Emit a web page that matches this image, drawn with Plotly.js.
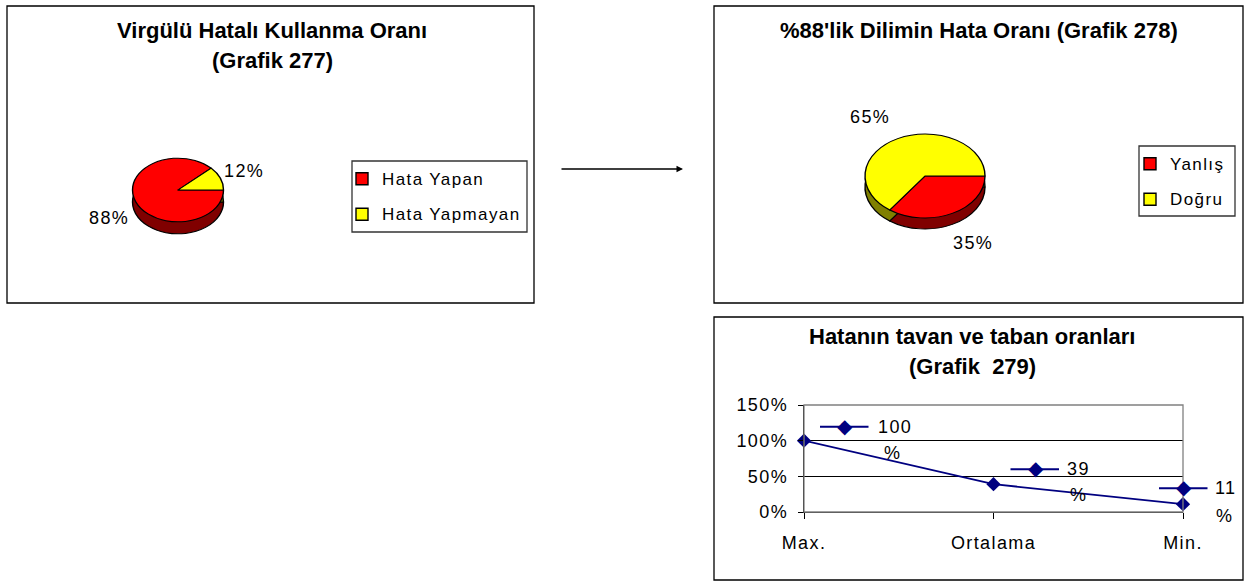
<!DOCTYPE html>
<html>
<head>
<meta charset="utf-8">
<script src="https://cdn.plot.ly/plotly-3.0.1.min.js"></script>
<style>html,body{margin:0;padding:0;background:#fff;}#chart{width:1253px;height:581px;}</style>
</head>
<body>
<div id="chart"></div>
<script>
// ---- data ----
const pie1Labels = ["Hata Yapan", "Hata Yapmayan"];
const pie1Values = [88, 12];
const pie2Labels = ["Yanlış", "Doğru"];
const pie2Values = [35, 65];
const lineCategories = ["Max.", "Ortalama", "Min."];
const lineValues = [1.00, 0.39, 0.11];
const lineLabelNumbers = ["100", "39", "11"];
const yTickVals = [0, 0.5, 1.0, 1.5];
const yTickText = ["0%", "50%", "100%", "150%"];
const titles1 = ["Virgülü Hatalı Kullanma Oranı", "(Grafik 277)"];
const titles2 = ["%88'lik Dilimin Hata Oranı (Grafik 278)"];
const titles3 = ["Hatanın tavan ve taban oranları", "(Grafik \u00a0279)"];

// ---- layout helpers (pixel -> paper) ----
const W = 1253, H = 581;
const px = x => x / W;
const py = y => 1 - y / H;
const FONT = "Liberation Sans, Arial, sans-serif";
const RED = "#FF0000", YEL = "#FFFF00", DRED = "#800000", DYEL = "#808000", NAVY = "#000080";
const sp = (t, extra) => '<span style="letter-spacing:1.4px' + (extra || '') + '">' + t + '</span>';

// pie geometry (pixels): centre x, centre y of top face, diameter, depth; squash factor
const pie1Geo = {cx: 178, cy: 190, d: 91, depth: 12};
const pie2Geo = {cx: 925, cy: 176, d: 120, depth: 11};
const SQUASH = 0.7;
// percent label centres (pixels) for each slice
const pie1LabelPos = [[109, 218], [244, 171]];
const pie2LabelPos = [[973, 243], [870, 117]];

function pieDomain(cx, cy, d) {
  return {x: [px(cx - d / 2), px(cx + d / 2)], y: [py(cy + d / 2), py(cy - d / 2)]};
}

// label offsets for the line chart (pixels relative to each point)
const keyOffsets = [[16, 66, 14], [17, 67, 15], [-24, 26, 16]];  // x0, x1, dy up
const numOffsets = [[91, 14], [85, 15], [43, 16]];
const pctOffsets = [[88, -12], [84, -11], [41, -12]];

const traces = [];
const pieCentres = [];
function addPie(labels, values, geo, legendId) {
  traces.push({type: "pie", labels: labels, values: values, sort: false, direction: "clockwise", rotation: 90,
    domain: pieDomain(geo.cx, geo.cy + geo.depth, geo.d), marker: {colors: [DRED, DYEL], line: {color: "#000", width: 1.4}},
    textinfo: "none", showlegend: false, hoverinfo: "skip"});
  pieCentres.push(geo.cy + geo.depth);
  traces.push({type: "pie", labels: labels.map(l => sp(l, ";font-size:17px;baseline-shift:4px")), values: values, sort: false,
    direction: "clockwise", rotation: 90,
    domain: pieDomain(geo.cx, geo.cy, geo.d), marker: {colors: [RED, YEL], line: {color: "#000", width: 1.4}},
    textinfo: "none", legend: legendId, hoverinfo: "skip"});
  pieCentres.push(geo.cy);
}
addPie(pie1Labels, pie1Values, pie1Geo, "legend");
addPie(pie2Labels, pie2Values, pie2Geo, "legend2");

// line chart
traces.push({type: "scatter", mode: "lines+markers", x: lineCategories, y: lineValues,
  line: {color: NAVY, width: 1.8}, marker: {symbol: "diamond", size: 11, color: NAVY}, cliponaxis: false,
  xaxis: "x", yaxis: "y", showlegend: false});

const shapes = [];
const rect = (x0, y0, x1, y1, col) => ({type: "rect", xref: "paper", yref: "paper", x0: px(x0), x1: px(x1), y0: py(y1), y1: py(y0), line: {color: col || "#000", width: 1.3}});
shapes.push(rect(7, 6, 534, 303));
shapes.push(rect(714, 6, 1243, 303));
shapes.push(rect(714, 317, 1243, 580));
// legend boxes
shapes.push(rect(352, 161, 527, 232, "#333"));
shapes.push(rect(1139, 146, 1235, 216, "#333"));
// plot-area border (grey)
shapes.push({type: "rect", xref: "x domain", yref: "y domain", x0: 0, x1: 1, y0: 0, y1: 1, line: {color: "#808080", width: 1.3}, layer: "above"});

const annotations = [];
const titleAnn = (text, x, y) => ({text: text, xref: "paper", yref: "paper", x: px(x), y: py(y), showarrow: false,
  xanchor: "center", yanchor: "middle", font: {family: FONT, size: 22, color: "#000", weight: "bold"}});
annotations.push(titleAnn(titles1[0], 272, 31));
annotations.push(titleAnn(titles1[1], 272, 61));
annotations.push(titleAnn(titles2[0], 979, 31));
annotations.push(titleAnn(titles3[0], 972, 336));
annotations.push(titleAnn(titles3[1], 972, 366));
// arrow
annotations.push({text: "", xref: "paper", yref: "paper", x: px(683), y: py(169), axref: "paper", ayref: "paper",
  ax: px(560), ay: py(169), showarrow: true, arrowhead: 2, arrowsize: 1, arrowwidth: 1.3, arrowcolor: "#000"});

// pie percent labels (computed from the values)
function pctLabels(values, pos) {
  const tot = values.reduce((a, b) => a + b, 0);
  values.forEach((v, i) => annotations.push({text: sp(Math.round(v / tot * 100) + "%"), xref: "paper", yref: "paper",
    x: px(pos[i][0]), y: py(pos[i][1]), showarrow: false, xanchor: "center", yanchor: "middle",
    font: {family: FONT, size: 18, color: "#000"}}));
}
pctLabels(pie1Values, pie1LabelPos);
pctLabels(pie2Values, pie2LabelPos);

// line chart data labels (key + number + %)
lineCategories.forEach((c, i) => {
  const k = keyOffsets[i];
  annotations.push({text: "", xref: "x", yref: "y", x: c, y: lineValues[i], xshift: k[0], yshift: k[2],
    showarrow: true, ax: k[1] - k[0], ay: 0, arrowhead: 0, arrowwidth: 2, arrowcolor: NAVY, standoff: 0, startstandoff: 0});
  annotations.push({text: "\u25C6", xref: "x", yref: "y", x: c, y: lineValues[i], xshift: (k[0] + k[1]) / 2, yshift: k[2] + 1,
    showarrow: false, font: {family: "DejaVu Sans", size: 20, color: NAVY}, xanchor: "center", yanchor: "middle"});
  annotations.push({text: sp(lineLabelNumbers[i]), xref: "x", yref: "y", x: c, y: lineValues[i], xshift: numOffsets[i][0], yshift: numOffsets[i][1],
    showarrow: false, font: {family: FONT, size: 18, color: "#000"}, xanchor: "center", yanchor: "middle"});
  annotations.push({text: "%", xref: "x", yref: "y", x: c, y: lineValues[i], xshift: pctOffsets[i][0], yshift: pctOffsets[i][1],
    showarrow: false, font: {family: FONT, size: 18, color: "#000"}, xanchor: "center", yanchor: "middle"});
});

const legendBase = {xanchor: "left", yanchor: "top", bgcolor: "rgba(0,0,0,0)", borderwidth: 0,
  font: {family: FONT, size: 25, color: "#000"}, itemclick: false, itemwidth: 30};

const layout = {
  width: W, height: H, margin: {l: 0, r: 0, t: 0, b: 0}, paper_bgcolor: "#fff", plot_bgcolor: "rgba(0,0,0,0)",
  showlegend: true,
  legend: Object.assign({}, legendBase, {x: px(342), y: py(156)}),
  legend2: Object.assign({}, legendBase, {x: px(1130), y: py(141)}),
  xaxis: {domain: [px(804), px(1183)], type: "category", range: [0, 2], showgrid: false, zeroline: false,
    tickvals: lineCategories, ticktext: lineCategories.map(c => sp(c)),
    showline: true, linecolor: "#000", linewidth: 1.3, ticks: "outside", ticklen: 6, tickcolor: "#000",
    tickfont: {family: FONT, size: 18, color: "#000"}, ticklabelstandoff: 8, fixedrange: true},
  yaxis: {domain: [py(512), py(405)], range: [0, 1.5], tickvals: yTickVals, ticktext: yTickText.map(t => sp(t)),
    showgrid: true, gridcolor: "#000", gridwidth: 1.3, zeroline: false, showline: true, linecolor: "#000", linewidth: 1.3,
    ticks: "outside", ticklen: 5, tickcolor: "#000", tickfont: {family: FONT, size: 18, color: "#000"}, ticklabelstandoff: 6, fixedrange: true},
  shapes: shapes, annotations: annotations
};

Plotly.newPlot("chart", traces, layout, {staticPlot: true, displayModeBar: false}).then(gd => {
  // flatten the pies into ellipses (3-D look)
  const groups = gd.querySelectorAll(".pielayer > g.trace");
  groups.forEach((g, i) => {
    const cy = pieCentres[i];
    g.setAttribute("transform", "translate(0," + cy + ") scale(1," + SQUASH + ") translate(0," + (-cy) + ")");
  });
});
</script>
</body>
</html>
